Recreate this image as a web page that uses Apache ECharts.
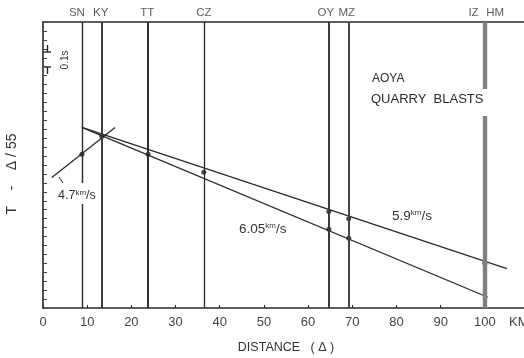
<!DOCTYPE html>
<html>
<head>
<meta charset="utf-8">
<script src="https://cdn.jsdelivr.net/npm/echarts@6/dist/echarts.min.js"></script>
<style>
  html, body { margin: 0; padding: 0; background: #fff; }
  #chart { width: 524px; height: 358px; }
</style>
</head>
<body>
<div id="chart"></div>
<script>
// Recording stations and their distances from the quarry (km)
const stationNames = ['SN', 'KY', 'TT', 'CZ', 'OY', 'MZ', 'IZ', 'HM'];
const stationDist  = [8.8, 13.3, 23.8, 36.4, 64.7, 69.2, 99.7, 100.3];

// Picked first arrivals, reduced time T - Δ/5.5 (s)
const obsDist = [8.8, 13.3, 23.8, 36.4, 64.7, 64.7, 69.2, 69.2, 100.0];
const obsTime = [0.86, 0.96, 0.86, 0.76, 0.54, 0.44, 0.50, 0.39, 0.25];

// Fitted travel-time branches (end points)
const branch47Dist  = [2.0, 16.3];
const branch47Time  = [0.73, 1.01];
const branch59Dist  = [8.8, 105.0];
const branch59Time  = [1.01, 0.22];
const branch605Dist = [8.8, 100.7];
const branch605Time = [1.01, 0.06];

// Distance axis labels (every 10 km) and unit
const xTickLabels = ['0', '10', '20', '30', '40', '50', '60', '70', '80', '90', '100', ''];
const xUnit = 'KM';

const FONT = 'Liberation Sans, Arial, sans-serif';
const INK = '#2a2a2a';

// Line weight / colour of each station's vertical line
const stationStyle = {
  SN: { width: 1.4, color: '#2a2a2a' },
  KY: { width: 2.0, color: '#3a3a3a' },
  TT: { width: 2.0, color: '#2f2f2f' },
  CZ: { width: 1.3, color: '#2a2a2a' },
  OY: { width: 2.0, color: '#3a3a3a' },
  MZ: { width: 2.0, color: '#444' },
  IZ: { width: 2.4, color: '#808080' },
  HM: { width: 2.4, color: '#808080' }
};
// Horizontal nudges for the station names above the frame
const stationLabelShift = { SN: -5, KY: -1, TT: -1, CZ: 0, OY: -3, MZ: -2, IZ: -10, HM: 9 };

const pairs = (xs, ys) => xs.map((x, i) => [x, ys[i]]);
const Y_MAX = 1.6;

const chart = echarts.init(document.getElementById('chart'), null, { renderer: 'canvas' });

const branchStyle = { color: INK, width: 1.3 };
const supStyle = { fontSize: 8, fontFamily: FONT, fill: '#333', verticalAlign: 'top' };

chart.setOption({
  animation: false,
  backgroundColor: '#fff',
  grid: { left: 43, top: 22, width: 486, height: 286, outerBoundsMode: 'none', containLabel: false },
  xAxis: [
    {
      type: 'value', min: 0, max: 110, interval: 10,
      axisLine: { show: true, lineStyle: { color: INK, width: 1.6 } },
      axisTick: { show: true, inside: true, length: 3, lineStyle: { color: INK } },
      splitLine: { show: false },
      axisLabel: {
        color: '#444', fontFamily: FONT, fontSize: 13, margin: 8,
        formatter: v => xTickLabels[Math.round(v / 10)]
      },
      name: 'DISTANCE   ( Δ )', nameLocation: 'middle', nameGap: 33,
      nameTextStyle: { color: '#333', fontFamily: FONT, fontSize: 12.5 }
    },
    {
      type: 'value', min: 0, max: 110, position: 'top',
      axisLine: { show: true, onZero: false, lineStyle: { color: INK, width: 1.6 } },
      axisTick: { show: false }, axisLabel: { show: false }, splitLine: { show: false }
    }
  ],
  yAxis: {
    type: 'value', min: 0, max: Y_MAX, interval: 0.05,
    axisLine: { show: true, lineStyle: { color: INK, width: 1.6 } },
    axisTick: { show: true, inside: true, length: 4, lineStyle: { color: '#444' } },
    axisLabel: { show: false },
    splitLine: { show: false },
    name: 'T    -    Δ / 55', nameLocation: 'middle', nameGap: 24, nameRotate: 90,
    nameTextStyle: { color: '#333', fontFamily: FONT, fontSize: 14, padding: [0, 18, 0, 0] }
  },
  series: [
    {
      // station verticals
      type: 'line', data: [], silent: true,
      markLine: {
        silent: true, symbol: 'none', animation: false,
        label: { show: false },
        data: stationNames.map((n, i) => ({
          xAxis: stationDist[i],
          lineStyle: { type: 'solid', color: stationStyle[n].color, width: stationStyle[n].width }
        }))
      }
    },
    {
      // station names above the frame
      type: 'scatter', symbolSize: 0, silent: true, z: 5,
      data: stationNames.map((n, i) => ({
        name: n, value: [stationDist[i], Y_MAX],
        label: { offset: [stationLabelShift[n], 0] }
      })),
      label: {
        show: true, position: 'top', distance: 3, formatter: p => p.name,
        color: '#333', fontFamily: FONT, fontSize: 11.5
      }
    },
    { type: 'line', data: pairs(branch47Dist, branch47Time), symbol: 'none', lineStyle: branchStyle, z: 3 },
    { type: 'line', data: pairs(branch59Dist, branch59Time), symbol: 'none', lineStyle: branchStyle, z: 3 },
    { type: 'line', data: pairs(branch605Dist, branch605Time), symbol: 'none', lineStyle: branchStyle, z: 3 },
    {
      type: 'scatter', data: pairs(obsDist, obsTime), symbol: 'circle', symbolSize: 5,
      itemStyle: { color: '#1a1a1a' }, z: 4
    }
  ],
  graphic: [
    // distance unit at the end of the axis
    {
      type: 'text', left: 509, top: 316,
      style: { text: xUnit, fontSize: 13, fontFamily: FONT, fill: '#444' }
    },
    // 0.1 s time bar
    { type: 'line', shape: { x1: 44, y1: 52, x2: 51, y2: 52 }, style: { stroke: INK, lineWidth: 1.4 } },
    { type: 'line', shape: { x1: 47.5, y1: 45, x2: 47.5, y2: 52 }, style: { stroke: INK, lineWidth: 1.4 } },
    { type: 'line', shape: { x1: 44, y1: 67, x2: 51, y2: 67 }, style: { stroke: INK, lineWidth: 1.4 } },
    { type: 'line', shape: { x1: 47.5, y1: 67, x2: 47.5, y2: 74 }, style: { stroke: INK, lineWidth: 1.4 } },
    {
      type: 'text', x: 65, y: 60, rotation: Math.PI / 2,
      style: { text: '0.1s', fontSize: 10, fontFamily: FONT, fill: '#333', align: 'center', verticalAlign: 'middle' }
    },
    // break in the IZ/HM lines behind the title
    { type: 'rect', shape: { x: 479, y: 89, width: 14, height: 27 }, style: { fill: '#fff' }, z: 9 },
    // velocity labels
    { type: 'line', shape: { x1: 59, y1: 177, x2: 67, y2: 189 }, style: { stroke: INK, lineWidth: 1 } },
    {
      type: 'text', left: 56, top: 183, z: 10,
      style: {
        text: '4.7{u|km}/s', fontSize: 12.5, fontFamily: FONT, fill: '#333',
        backgroundColor: '#fff', padding: [6, 2, 2, 2], rich: { u: supStyle }
      }
    },
    {
      type: 'text', left: 239, top: 222, z: 10,
      style: { text: '6.05{u|km}/s', fontSize: 13.5, fontFamily: FONT, fill: '#333', rich: { u: supStyle } }
    },
    {
      type: 'text', left: 392, top: 209, z: 10,
      style: { text: '5.9{u|km}/s', fontSize: 13.5, fontFamily: FONT, fill: '#333', rich: { u: supStyle } }
    },
    // title block
    {
      type: 'text', left: 372, top: 73, z: 10,
      style: { text: 'AOYA', fontSize: 12, fontFamily: FONT, fill: '#2a2a2a' }
    },
    {
      type: 'text', left: 371, top: 93, z: 10,
      style: { text: 'QUARRY  BLASTS', fontSize: 13, fontFamily: FONT, fill: '#2a2a2a' }
    }
  ]
});
</script>
</body>
</html>
